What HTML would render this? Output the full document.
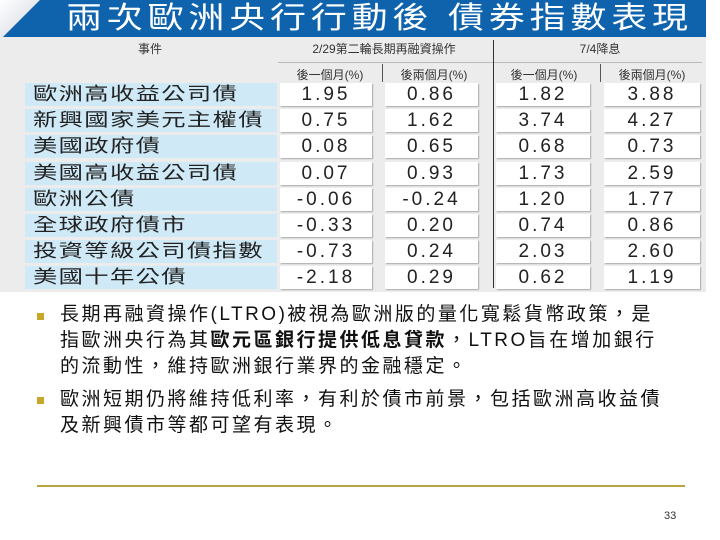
<!DOCTYPE html>
<html><head><meta charset="utf-8"><style>
body{margin:0;width:720px;height:540px;background:#fff;position:relative;overflow:hidden;font-family:"Liberation Sans","Noto Sans CJK TC",sans-serif}
.a{position:absolute}
.hdr{font-size:12px;color:#333;text-align:center;white-space:nowrap}
.lab{position:absolute;left:25px;width:252px;height:23px;background:#cfe9f7;font-size:18px;color:#222;line-height:23px;padding-left:8px;box-sizing:border-box;letter-spacing:1px;white-space:nowrap}
.lab span{display:inline-block;transform:scaleX(1.35);transform-origin:left center}
.cell{position:absolute;height:23px;background:#fff;box-shadow:1px 1px 1px #aaa;font-size:19px;color:#222;text-align:center;line-height:23px;letter-spacing:3px}
.txt{position:absolute;left:60px;font-size:19px;color:#111;line-height:26px;white-space:nowrap;letter-spacing:2.5px}
.bul{position:absolute;left:37px;width:7px;height:7px;background:#c8a62a}
</style></head><body>
<div class="a" style="left:0;top:0;width:706px;height:292px;background:#ececec"></div>
<div class="a" style="left:0;top:0;width:706px;height:37px;background:#0e63ac"></div>
<div class="a" style="left:0;top:0;width:42px;height:37px;background:linear-gradient(135deg,#fff 0%,#e6e9ee 50%,#0e63ac 51%)"></div>
<div class="a" style="left:66px;top:0;font-size:30px;line-height:37px;color:#fff;letter-spacing:4px;white-space:nowrap;transform:scaleX(1.2);transform-origin:left top">兩次歐洲央行行動後&nbsp;債券指數表現</div>
<div class="a hdr" style="left:100px;top:40px;width:100px">事件</div>
<div class="a hdr" style="left:278px;top:40px;width:212px">2/29第二輪長期再融資操作</div>
<div class="a hdr" style="left:550px;top:40px;width:100px">7/4降息</div>
<div class="a" style="left:278px;top:62px;width:424px;height:1px;background:#bbb"></div>
<div class="a" style="left:493px;top:40px;width:1px;height:248px;background:#333"></div>
<div class="a" style="left:382px;top:64px;width:1px;height:18px;background:#555"></div>
<div class="a" style="left:600px;top:64px;width:1px;height:18px;background:#555"></div>
<div class="a hdr" style="left:280px;top:66px;width:100px">後一個月(%)</div>
<div class="a hdr" style="left:384px;top:66px;width:100px">後兩個月(%)</div>
<div class="a hdr" style="left:494px;top:66px;width:100px">後一個月(%)</div>
<div class="a hdr" style="left:602px;top:66px;width:100px">後兩個月(%)</div>
<div id="rows"></div>
<div class="bul" style="top:313px"></div>
<div class="txt" style="top:302px">長期再融資操作(LTRO)被視為歐洲版的量化寬鬆貨幣政策，是<br>指歐洲央行為其<b>歐元區銀行提供低息貸款</b>，LTRO旨在增加銀行<br>的流動性，維持歐洲銀行業界的金融穩定。</div>
<div class="bul" style="top:397px"></div>
<div class="txt" style="top:387px">歐洲短期仍將維持低利率，有利於債市前景，包括歐洲高收益債<br>及新興債市等都可望有表現。</div>
<div class="a" style="left:37px;top:485px;width:648px;height:2px;background:#b8a542"></div>
<div class="a" style="left:664px;top:510px;font-size:11px;color:#333">33</div>
<script>
const labels=["歐洲高收益公司債","新興國家美元主權債","美國政府債","美國高收益公司債","歐洲公債","全球政府債市","投資等級公司債指數","美國十年公債"];
const ltro1=["1.95","0.75","0.08","0.07","-0.06","-0.33","-0.73","-2.18"];
const ltro2=["0.86","1.62","0.65","0.93","-0.24","0.20","0.24","0.29"];
const cut1=["1.82","3.74","0.68","1.73","1.20","0.74","2.03","0.62"];
const cut2=["3.88","4.27","0.73","2.59","1.77","0.86","2.60","1.19"];
const cols=[[ltro1,280,92],[ltro2,385,93],[cut1,496,94],[cut2,604,96]];
const host=document.getElementById('rows');
labels.forEach((l,i)=>{
  const y=83+i*26.2;
  const d=document.createElement('div');d.className='lab';d.style.top=y+'px';
  const s=document.createElement('span');s.textContent=l;d.appendChild(s);
  
  
  host.appendChild(d);
  cols.forEach(([arr,x,w])=>{
    const c=document.createElement('div');c.className='cell';
    c.style.top=y+'px';c.style.left=x+'px';c.style.width=w+'px';c.textContent=arr[i];
    
    
    host.appendChild(c);
  });
});
</script>
</body></html>
